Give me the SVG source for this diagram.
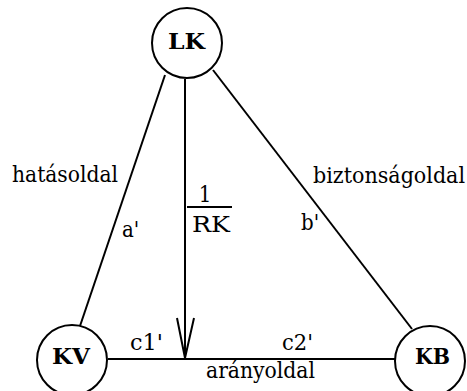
<svg xmlns="http://www.w3.org/2000/svg" width="467" height="391" viewBox="0 0 467 391">
<style>
.node{fill:#fff;stroke:#000;stroke-width:2}
.nl{font-family:"DejaVu Serif Condensed","DejaVu Serif",serif;font-stretch:condensed;font-weight:bold;font-size:22px}
.lbl{font-family:"DejaVu Serif Condensed","DejaVu Serif",serif;font-stretch:condensed;font-size:23px}
.sm{font-size:22px}
.edge{stroke:#000;stroke-width:2;fill:none}
</style>
<rect width="467" height="391" fill="#fff"/>
<g id="connectors">
<line class="edge" x1="165" y1="75" x2="80" y2="326"/>
<line class="edge" x1="213" y1="70" x2="412" y2="329"/>
<line class="edge" x1="108" y1="359" x2="395" y2="359"/>
<line class="edge" x1="185" y1="79" x2="185" y2="358"/>
<polyline class="edge" points="177,318 185,358 194,318" stroke-width="2.5"/>
<line class="edge" x1="187" y1="207" x2="232" y2="207" stroke-width="1.5"/>
</g>
<g id="labels">
<text class="lbl" x="12" y="182" textLength="106" lengthAdjust="spacingAndGlyphs">hatásoldal</text>
<text class="lbl sm" x="122" y="237">a'</text>
<text class="lbl" x="313" y="183" textLength="152" lengthAdjust="spacingAndGlyphs">biztonságoldal</text>
<text class="lbl sm" x="301" y="230">b'</text>
<text class="lbl sm" x="205" y="202" text-anchor="middle">1</text>
<text class="lbl sm" x="192" y="232" textLength="38" lengthAdjust="spacingAndGlyphs">RK</text>
<text class="lbl sm" x="130" y="350" textLength="33" lengthAdjust="spacingAndGlyphs">c1'</text>
<text class="lbl sm" x="282" y="350" textLength="31" lengthAdjust="spacingAndGlyphs">c2'</text>
<text class="lbl" x="206" y="378" textLength="109" lengthAdjust="spacingAndGlyphs">arányoldal</text>
</g>
<g id="LK">
<circle class="node" cx="187" cy="43" r="35"/>
<text class="nl" x="168" y="49" textLength="37" lengthAdjust="spacingAndGlyphs">LK</text>
</g>
<g id="KV">
<circle class="node" cx="72" cy="360" r="35"/>
<text class="nl" x="52" y="364" textLength="38" lengthAdjust="spacingAndGlyphs">KV</text>
</g>
<g id="KB">
<circle class="node" cx="430" cy="361" r="35"/>
<text class="nl" x="415" y="364" textLength="35" lengthAdjust="spacingAndGlyphs">KB</text>
</g>
</svg>
